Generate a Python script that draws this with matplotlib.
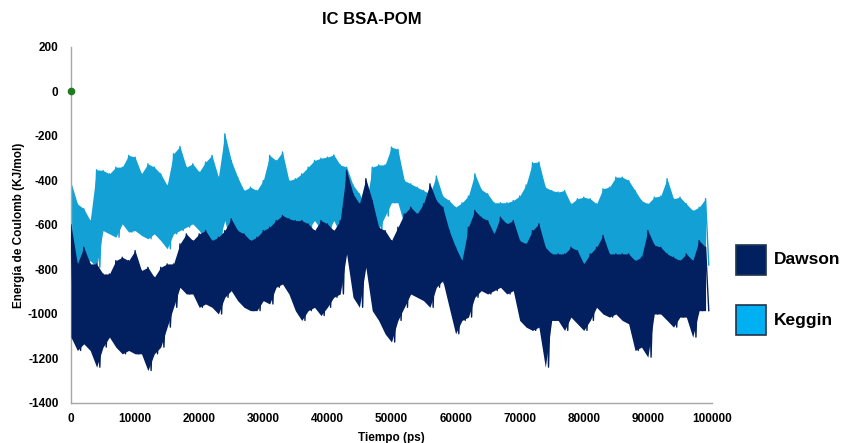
import matplotlib
matplotlib.use("Agg")
import matplotlib.pyplot as plt
from matplotlib.patches import Rectangle
import numpy as np

plt.rcParams["font.family"] = ["Liberation Sans", "DejaVu Sans"]
plt.rcParams["font.weight"] = "bold"
plt.rcParams["axes.unicode_minus"] = False

# time bins (ps), one per 1000 ps
tiempo = np.arange(0, 100000, 1000)

# Dawson: upper / lower envelope read per 1000 ps bin (kJ/mol)
dawson_high = [
    -600, -775, -700, -775, -775, -820, -820, -760, -745, -760,
    -715, -805, -790, -835, -790, -775, -775, -685, -640, -670,
    -640, -625, -670, -655, -625, -572, -625, -640, -670, -655,
    -625, -610, -580, -557, -572, -580, -580, -595, -625, -580,
    -595, -625, -580, -355, -460, -505, -392, -490, -610, -625,
    -670, -610, -550, -520, -550, -505, -415, -490, -520, -625,
    -700, -760, -610, -535, -565, -580, -640, -565, -595, -580,
    -670, -685, -625, -595, -700, -730, -730, -730, -700, -715,
    -775, -730, -700, -647, -730, -730, -730, -730, -760, -745,
    -625, -690, -700, -730, -745, -760, -730, -760, -670, -700,
]
dawson_low = [
    -1104, -1164, -1134, -1164, -1239, -1149, -1104, -1149, -1179, -1164,
    -1179, -1179, -1254, -1179, -1149, -1059, -970, -880, -910, -910,
    -970, -955, -970, -1000, -925, -895, -940, -970, -985, -985,
    -940, -955, -880, -865, -910, -985, -1029, -985, -970, -1007,
    -970, -925, -910, -730, -925, -970, -790, -985, -1029, -1089,
    -1126, -1029, -970, -910, -925, -940, -970, -880, -850, -970,
    -1089, -1029, -1014, -925, -895, -910, -895, -880, -910, -895,
    -1029, -1059, -1074, -1059, -1239, -1029, -1029, -1074, -1014, -1044,
    -1074, -1029, -970, -1000, -1014, -1000, -1029, -1044, -1164, -1149,
    -1194, -1000, -1000, -1029, -1059, -1014, -1014, -1104, -985, -985,
]

# Keggin: upper / lower envelope read per 1000 ps bin (kJ/mol)
keggin_high = [
    -407, -505, -527, -580, -352, -355, -370, -340, -340, -287,
    -295, -370, -325, -340, -370, -422, -280, -247, -340, -325,
    -362, -317, -287, -385, -190, -310, -385, -445, -430, -445,
    -400, -287, -310, -272, -400, -392, -370, -340, -310, -300,
    -295, -285, -330, -340, -420, -460, -520, -340, -330, -330,
    -250, -260, -400, -415, -430, -445, -460, -380, -470, -490,
    -520, -500, -470, -370, -440, -460, -500, -500, -500, -490,
    -470, -420, -320, -317, -430, -445, -452, -445, -505, -482,
    -475, -482, -505, -437, -430, -385, -385, -400, -445, -490,
    -505, -475, -470, -392, -482, -475, -505, -535, -520, -482,
]
keggin_low = [
    -834, -775, -790, -760, -790, -625, -640, -655, -595, -632,
    -625, -647, -662, -640, -670, -707, -640, -625, -610, -595,
    -625, -670, -700, -685, -580, -700, -700, -715, -707, -670,
    -655, -625, -625, -640, -655, -670, -640, -620, -580, -620,
    -640, -580, -640, -660, -680, -680, -700, -640, -620, -560,
    -500, -500, -600, -640, -660, -700, -780, -820, -860, -880,
    -910, -880, -780, -720, -720, -700, -720, -700, -720, -720,
    -740, -760, -760, -740, -760, -760, -770, -760, -760, -790,
    -790, -760, -740, -720, -740, -760, -760, -770, -790, -820,
    -780, -740, -720, -740, -760, -770, -760, -760, -780, -780,
]

series = [
    ("Keggin", keggin_high, keggin_low, "#13A0D5"),
    ("Dawson", dawson_high, dawson_low, "#02205F"),
]
legend_colors = {"Dawson": "#002060", "Keggin": "#00B0F0"}

fig = plt.figure(figsize=(8.49, 4.43), dpi=100)
ax = fig.add_axes([0.0836, 0.0903, 0.755, 0.8037])

for z, (name, high, low, color) in enumerate(series):
    # band between the upper and lower envelope of the noisy trace
    ax.fill_between(tiempo, low, high, color=color, linewidth=0, zorder=2 + z)
    # zigzag trace: peak at the start of each bin, trough half a bin later
    xs = np.empty(2 * len(tiempo))
    ys = np.empty(2 * len(tiempo))
    xs[0::2] = tiempo
    xs[1::2] = tiempo + 500
    ys[0::2] = high
    ys[1::2] = low
    ax.plot(xs, ys, color=color, linewidth=1.0, zorder=2 + z)

ax.plot([0], [0], "o", color="#1E7B1E", markersize=4.5, clip_on=False, zorder=5)

ax.set_xlim(0, 100000)
ax.set_ylim(-1400, 200)
ax.set_xticks(np.arange(0, 100001, 10000))
ax.set_yticks(np.arange(-1400, 201, 200))
ax.tick_params(length=0, labelsize=8.5)
ax.tick_params(axis="y", pad=9)
ax.tick_params(axis="x", pad=7)
for lab in ax.get_xticklabels() + ax.get_yticklabels():
    lab.set_fontweight("bold")
for s in ["top", "right"]:
    ax.spines[s].set_visible(False)
for s in ["left", "bottom"]:
    ax.spines[s].set_color("#A6A6A6")
    ax.spines[s].set_linewidth(1.0)

ax.set_xlabel("Tiempo (ps)", fontsize=8.5, fontweight="bold", labelpad=5)
ax.set_ylabel("Energía de Coulomb (KJ/mol)", fontsize=8.5, fontweight="bold", labelpad=2)
fig.text(0.438, 0.955, "IC BSA-POM", ha="center", va="center",
         fontsize=12, fontweight="bold")

# legend boxes on the right
for i, name in enumerate(["Dawson", "Keggin"]):
    y0 = 1 - (275 + i * 60) / 443
    fig.patches.append(Rectangle((736 / 849, y0), 30 / 849, 30 / 443,
                                 transform=fig.transFigure,
                                 facecolor=legend_colors[name],
                                 edgecolor="#1F3550", linewidth=1.2))
    fig.text(774 / 849, y0 + 15 / 443, name, ha="left", va="center",
             fontsize=12.5, fontweight="bold")

fig.savefig("out.png", dpi=100)
